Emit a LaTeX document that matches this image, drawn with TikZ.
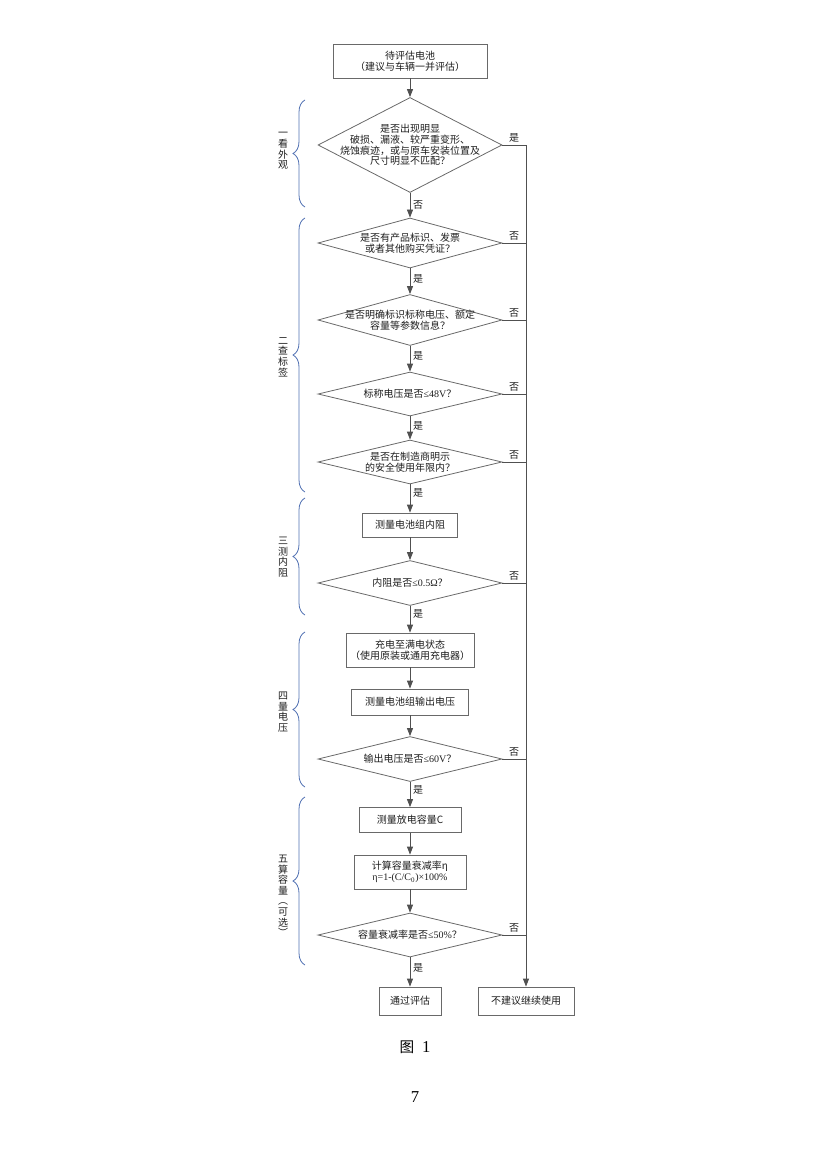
\documentclass[tikz,border=0pt]{standalone}
\usepackage{fontspec}
\setmainfont{Liberation Serif}
\newfontfamily\cjk{Noto Sans CJK SC}
\usepackage{tikz}
\usetikzlibrary{shapes.geometric,arrows.meta,decorations.pathreplacing}
\definecolor{linegray}{RGB}{80,80,80}
\definecolor{bordergray}{RGB}{105,105,105}
\definecolor{textgray}{RGB}{30,30,30}
\definecolor{bracketblue}{RGB}{80,112,178}

\begin{document}
\begin{tikzpicture}[x=0.75pt,y=-0.75pt,line width=0.6pt,
    font=\cjk\fontsize{7.5}{8.1}\selectfont,
    box/.style={shape=rectangle, draw=bordergray, text=textgray, align=center, inner sep=0pt},
    dec/.style={shape=diamond, draw=bordergray, inner sep=0pt, minimum width=138pt},
    txt/.style={text=textgray, align=center, inner sep=0pt},
    arr/.style={draw=linegray, -{Triangle[length=6pt,width=4.5pt]}},
    ln/.style={draw=linegray},
    ans/.style={text=textgray, inner sep=2pt},
    brk/.style={draw=bracketblue, decorate, decoration={brace, amplitude=9pt}},
    side/.style={text=textgray, align=center, inner sep=0pt, font=\cjk\fontsize{7.5}{7.9}\selectfont}]
     \useasboundingbox (0,0) rectangle (826,1169);

     % boxes and decisions
     \node[box, minimum width=115.5pt, minimum height=25.5pt] (start) at (410,61) {待评估电池\\（建议与车辆一并评估）};
     \node[dec, minimum height=71.25pt, label={[txt]center:是否出现明显\\破损、漏液、较严重变形、\\烧蚀痕迹，或与原车安装位置及\\尺寸明显不匹配？}] (look) at (410,145) {};
     \node[dec, minimum height=37.5pt, label={[txt]center:是否有产品标识、发票\\或者其他购买凭证？}] (mark) at (410,243) {};
     \node[dec, minimum height=38.25pt, label={[txt]center:是否明确标识标称电压、额定\\容量等参数信息？}] (info) at (410,320) {};
     \node[dec, minimum height=33pt, label={[txt]center:标称电压是否{\rmfamily ≤48V}？}] (volt) at (410,394) {};
     \node[dec, minimum height=33pt, label={[txt]center:是否在制造商明示\\的安全使用年限内？}] (life) at (410,462) {};
     \node[box, minimum width=71.25pt, minimum height=18pt] (res) at (410,525) {测量电池组内阻};
     \node[dec, minimum height=33.75pt, label={[txt]center:内阻是否{\rmfamily ≤0.5Ω}？}] (resq) at (410,583) {};
     \node[box, minimum width=96pt, minimum height=25.5pt] (charge) at (410,650) {充电至满电状态\\（使用原装或通用充电器）};
     \node[box, minimum width=87.75pt, minimum height=19.5pt] (out) at (410,702) {测量电池组输出电压};
     \node[dec, minimum height=33.75pt, label={[txt]center:输出电压是否{\rmfamily ≤60V}？}] (outq) at (410,759) {};
     \node[box, minimum width=76.5pt, minimum height=18.75pt] (cap) at (410,820) {测量放电容量C};
     \node[box, minimum width=84pt, minimum height=25.5pt] (rate) at (410,872) {计算容量衰减率η\\{\rmfamily η=1-(C/C\textsubscript{0})×100\%}};
     \node[dec, minimum height=33pt, label={[txt]center:容量衰减率是否{\rmfamily ≤50\%}？}] (rateq) at (410,935) {};
     \node[box, minimum width=46.5pt, minimum height=21pt] (pass) at (410,1001) {通过评估};
     \node[box, minimum width=72pt, minimum height=21pt] (stop) at (526,1001) {不建议继续使用};

     % main line
     \draw[arr] (start) -- (look);
     \draw[arr] (look) -- node[ans, right] {否} (mark);
     \draw[arr] (mark) -- node[ans, right, pos=0.4] {是} (info);
     \draw[arr] (info) -- node[ans, right, pos=0.4] {是} (volt);
     \draw[arr] (volt) -- node[ans, right, pos=0.4] {是} (life);
     \draw[arr] (life) -- node[ans, right, pos=0.3] {是} (res);
     \draw[arr] (res) -- (resq);
     \draw[arr] (resq) -- node[ans, right, pos=0.3] {是} (charge);
     \draw[arr] (charge) -- (out);
     \draw[arr] (out) -- (outq);
     \draw[arr] (outq) -- node[ans, right, pos=0.3] {是} (cap);
     \draw[arr] (cap) -- (rate);
     \draw[arr] (rate) -- (rateq);
     \draw[arr] (rateq) -- node[ans, right, pos=0.35] {是} (pass);

     % right line
     \draw[arr] (look.east) -- node[ans, above] {是} (look.east -| stop) -- (stop);
     \draw[ln] (mark.east) -- node[ans, above] {否} (mark.east -| stop);
     \draw[ln] (info.east) -- node[ans, above] {否} (info.east -| stop);
     \draw[ln] (volt.east) -- node[ans, above] {否} (volt.east -| stop);
     \draw[ln] (life.east) -- node[ans, above] {否} (life.east -| stop);
     \draw[ln] (resq.east) -- node[ans, above] {否} (resq.east -| stop);
     \draw[ln] (outq.east) -- node[ans, above] {否} (outq.east -| stop);
     \draw[ln] (rateq.east) -- node[ans, above] {否} (rateq.east -| stop);

     % steps on the left
     \draw[brk] (305,207) -- (305,100);
     \draw[brk] (305,492) -- (305,218);
     \draw[brk] (305,615) -- (305,498);
     \draw[brk] (305,787) -- (305,632);
     \draw[brk] (305,965) -- (305,797);
     \node[side] (s1) at (283,151) {一\\看\\外\\观};
     \node[side] (s2) at (283,357) {二\\查\\标\\签};
     \node[side] (s3) at (283,557) {三\\测\\内\\阻};
     \node[side] (s4) at (283,712) {四\\量\\电\\压};
     \node[side] (s5) at (283,896) {五\\算\\容\\量\\︵\\可\\选\\︶};

     \node[text=black, font=\cjk\fontsize{11}{12}\selectfont] (fig) at (415,1047) {图\hspace{6pt}{\rmfamily\fontsize{12.5}{13}\selectfont 1}};
     \node[text=black, font=\rmfamily\fontsize{12.5}{13}\selectfont] (page) at (415,1097) {7};
\end{tikzpicture}
\end{document}
